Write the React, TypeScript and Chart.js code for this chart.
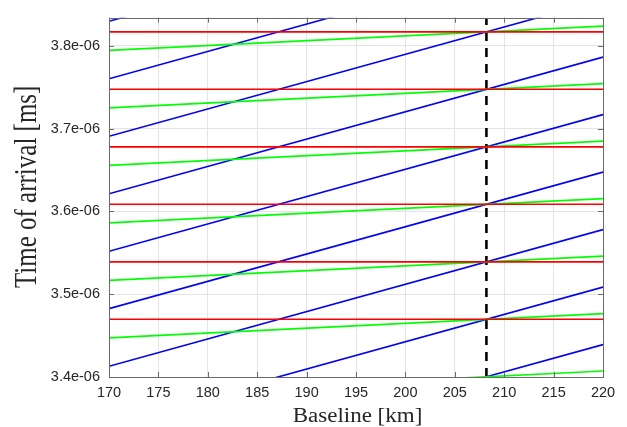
import React, { useEffect, useRef } from 'react';
import { Chart, registerables } from 'chart.js';

Chart.register(...registerables);

// Axis ranges (y values in units of 1e-06 ms)
const X_MIN = 170;
const X_MAX = 220;
const Y_MIN = 3.4;
const Y_MAX = 3.834;

const xTicks = [170, 175, 180, 185, 190, 195, 200, 205, 210, 215, 220];
const yTicks = [3.4, 3.5, 3.6, 3.7, 3.8];

// Dashed vertical marker (baseline where all curves coincide)
const crossingX = 208.2;

// Red horizontal lines (constant arrival times)
const redLevels = [3.4697, 3.5391, 3.6086, 3.678, 3.7475, 3.8169];

// Green lines: value at x=170 and x=220
const greenAt170 = [3.3779, 3.4473, 3.5167, 3.5862, 3.6556, 3.7251, 3.7945];
const greenAt220 = [3.4072, 3.4766, 3.546, 3.6155, 3.6849, 3.7544, 3.8238];

// Blue lines: value at x=170 and x=220
const blueAt170 = [3.2742, 3.3436, 3.413, 3.4825, 3.5519, 3.6214, 3.6908, 3.7603, 3.8297];
const blueAt220 = [3.4392, 3.5086, 3.578, 3.6475, 3.7169, 3.7864, 3.8558, 3.9253, 3.9947];

const TEXT = '#262626';

const framePlugin = {
  id: 'frameAndTitles',
  afterDraw(chart: any) {
    const { ctx, chartArea } = chart;
    const { left, right, top, bottom } = chartArea;
    const xs = chart.scales.x;
    const ys = chart.scales.y;
    ctx.save();
    // frame
    ctx.strokeStyle = '#6a6a6a';
    ctx.lineWidth = 1;
    ctx.strokeRect(Math.round(left) + 0.5, Math.round(top) + 0.5, Math.round(right - left), Math.round(bottom - top));
    // inner ticks
    const tl = 5;
    ctx.beginPath();
    xTicks.forEach((v) => {
      const px = Math.round(xs.getPixelForValue(v)) + 0.5;
      ctx.moveTo(px, bottom);
      ctx.lineTo(px, bottom - tl);
      ctx.moveTo(px, top);
      ctx.lineTo(px, top + tl);
    });
    yTicks.forEach((v) => {
      const py = Math.round(ys.getPixelForValue(v)) + 0.5;
      ctx.moveTo(left, py);
      ctx.lineTo(left + tl, py);
      ctx.moveTo(right, py);
      ctx.lineTo(right - tl, py);
    });
    ctx.stroke();

    // axis titles
    ctx.fillStyle = TEXT;
    ctx.textAlign = 'center';
    ctx.textBaseline = 'alphabetic';
    ctx.font = '20px "Liberation Serif", "Times New Roman", serif';
    ctx.save();
    ctx.translate((left + right) / 2 + 1.5, bottom + 45);
    ctx.scale(1.15, 1);
    ctx.fillText('Baseline [km]', 0, 0);
    ctx.restore();

    ctx.font = '25px "Liberation Serif", "Times New Roman", serif';
    ctx.save();
    ctx.translate(36, (top + bottom) / 2 - 10.5);
    ctx.rotate(-Math.PI / 2);
    ctx.scale(1, 1.25);
    ctx.fillText('Time of arrival [ms]', 0, 0);
    ctx.restore();

    ctx.restore();
  },
};

export default function App() {
  const canvasRef = useRef<HTMLCanvasElement | null>(null);

  useEffect(() => {
    const canvas = canvasRef.current;
    if (!canvas) return;

    const lineStyle = (color: string) => ({
      borderColor: color,
      backgroundColor: color,
      borderWidth: 1.6,
      pointRadius: 0,
      fill: false,
      tension: 0,
      clip: 0,
    });

    const datasets: any[] = [];
    redLevels.forEach((y) => {
      datasets.push({ data: [{ x: X_MIN, y }, { x: X_MAX, y }], ...lineStyle('#ff0000') });
    });
    greenAt170.forEach((y0, i) => {
      datasets.push({ data: [{ x: X_MIN, y: y0 }, { x: X_MAX, y: greenAt220[i] }], ...lineStyle('#00ff00') });
    });
    blueAt170.forEach((y0, i) => {
      datasets.push({ data: [{ x: X_MIN, y: y0 }, { x: X_MAX, y: blueAt220[i] }], ...lineStyle('#0000ff') });
    });
    datasets.push({
      data: [{ x: crossingX, y: Y_MIN }, { x: crossingX, y: Y_MAX }],
      ...lineStyle('#000000'),
      borderWidth: 2.6,
      borderDash: [9, 7],
    });

    const chart = new Chart(canvas, {
      type: 'line',
      data: { datasets },
      options: {
        responsive: false,
        animation: false,
        events: [],
        layout: { padding: { top: 15, right: 24, left: 0, bottom: 0 } },
        plugins: {
          legend: { display: false },
          tooltip: { enabled: false },
          title: { display: false },
        },
        scales: {
          x: {
            type: 'linear',
            min: X_MIN,
            max: X_MAX,
            afterBuildTicks: (scale: any) => {
              scale.ticks = xTicks.map((v) => ({ value: v }));
            },
            afterFit: (scale: any) => {
              scale.height = 50;
            },
            grid: { color: '#e4e4e4', lineWidth: 1, drawTicks: false },
            border: { display: false },
            ticks: {
              padding: 7,
              color: TEXT,
              maxRotation: 0,
              autoSkip: false,
              font: { family: '"Liberation Sans", Arial, sans-serif', size: 14.5 },
              callback: (v: any) => String(v),
            },
          },
          y: {
            type: 'linear',
            min: Y_MIN,
            max: Y_MAX,
            afterBuildTicks: (scale: any) => {
              scale.ticks = yTicks.map((v) => ({ value: v }));
            },
            afterFit: (scale: any) => {
              scale.width = 109;
            },
            grid: { color: '#e4e4e4', lineWidth: 1, drawTicks: false },
            border: { display: false },
            ticks: {
              padding: 9,
              color: TEXT,
              autoSkip: false,
              font: { family: '"Liberation Sans", Arial, sans-serif', size: 14.5 },
              callback: (v: any) => Number(v).toFixed(1) + 'e-06',
            },
          },
        },
      },
      plugins: [framePlugin],
    });

    return () => {
      chart.destroy();
    };
  }, []);

  return (
    <canvas
      ref={canvasRef}
      width={627}
      height={427}
      style={{ position: 'absolute', left: 0, top: 0, display: 'block', background: '#ffffff' }}
    />
  );
}
